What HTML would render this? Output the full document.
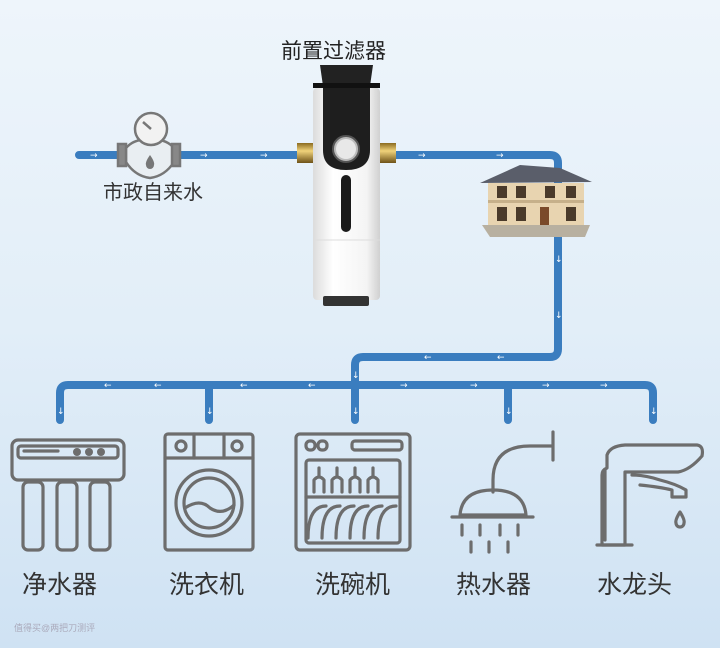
<!DOCTYPE html>
<html><head><meta charset="utf-8"><style>
html,body{margin:0;padding:0;}
body{width:720px;height:648px;overflow:hidden;background:linear-gradient(180deg,#eef5fb 0%,#e2eef8 50%,#cfe2f3 100%);font-family:"Liberation Sans","Noto Sans CJK SC",sans-serif;}
svg{display:block}
</style></head><body>
<svg width="720" height="648" viewBox="0 0 720 648" xmlns="http://www.w3.org/2000/svg">
<defs>
<linearGradient id="brass" x1="0" y1="0" x2="0" y2="1"><stop offset="0" stop-color="#8a6a20"/><stop offset=".4" stop-color="#f0d27a"/><stop offset="1" stop-color="#6e5218"/></linearGradient>
<linearGradient id="wb" x1="0" y1="0" x2="1" y2="0"><stop offset="0" stop-color="#dcdcdc"/><stop offset=".3" stop-color="#ffffff"/><stop offset=".8" stop-color="#f4f4f4"/><stop offset="1" stop-color="#d0d0d0"/></linearGradient>
</defs>
<g fill="none" stroke="#3a7dbf" stroke-width="8" stroke-linecap="round" stroke-linejoin="round">
<path d="M79 155 H550 Q558 155 558 163 V349 Q558 357 550 357 H363 Q355 357 355 365 V420"/>
<path d="M60 420 V393 Q60 385 68 385 H645 Q653 385 653 393 V420"/>
<path d="M209 385 V420 M508 385 V420"/>
</g>
<g fill="#fff" font-size="9" font-family="DejaVu Sans,sans-serif">
<text x="90" y="158">→</text><text x="200" y="158">→</text><text x="260" y="158">→</text><text x="418" y="158">→</text><text x="496" y="158">→</text>
<text x="424" y="360">←</text><text x="497" y="360">←</text>
<text x="104" y="388">←</text><text x="154" y="388">←</text><text x="240" y="388">←</text><text x="308" y="388">←</text><text x="400" y="388">→</text><text x="470" y="388">→</text><text x="542" y="388">→</text><text x="600" y="388">→</text>
<text x="555" y="262">↓</text><text x="555" y="318">↓</text><text x="352" y="378">↓</text>
<text x="57" y="414">↓</text><text x="206" y="414">↓</text><text x="352" y="414">↓</text><text x="505" y="414">↓</text><text x="650" y="414">↓</text>
</g>
<!-- meter -->
<g stroke="#777" stroke-width="2.5" fill="#e9eef2">
<path d="M126 148 Q135 138 150 140 Q165 138 174 148 V162 Q165 176 150 178 Q135 176 126 162 Z"/>
<rect x="118" y="144" width="8" height="22" fill="#888"/><rect x="172" y="144" width="8" height="22" fill="#888"/>
<rect x="146" y="132" width="8" height="10" fill="#ccc"/>
<circle cx="151" cy="129" r="16" fill="#f2f2f2"/>
<line x1="151" y1="129" x2="143" y2="122"/>
</g>
<path d="M150 155 q-5 7 -4 10 a4 4 0 0 0 8 0 q1 -3 -4 -10z" fill="#777"/>
<text x="103" y="199" font-size="20" fill="#333">市政自来水</text>
<!-- filter -->
<text x="281" y="58" font-size="21" fill="#222">前置过滤器</text>
<rect x="297" y="143" width="17" height="20" fill="url(#brass)"/>
<rect x="379" y="143" width="17" height="20" fill="url(#brass)"/>
<rect x="313" y="88" width="67" height="212" rx="4" fill="url(#wb)"/>
<path d="M323 88 H370 V150 Q370 170 346 170 Q323 170 323 150 Z" fill="#1e1e1e"/>
<path d="M320 65 H373 L370 86 H323 Z" fill="#222"/>
<rect x="313" y="83" width="67" height="5" fill="#111"/>
<circle cx="346" cy="149" r="13" fill="#bbb" stroke="#555" stroke-width="2"/>
<circle cx="346" cy="149" r="10" fill="#e8e8e8"/>
<rect x="341" y="175" width="10" height="57" rx="5" fill="#1a1a1a"/>
<line x1="313" y1="240" x2="380" y2="240" stroke="#ddd"/>
<rect x="323" y="296" width="46" height="10" rx="2" fill="#333"/>
<!-- house -->
<g>
<path d="M480 183 L520 165 L560 168 L592 182 Z" fill="#5a5e6a"/>
<rect x="488" y="183" width="96" height="42" fill="#e8d4b0"/>
<rect x="488" y="200" width="96" height="3" fill="#c6b08a"/>
<rect x="497" y="186" width="10" height="12" fill="#4a3a2a"/><rect x="516" y="186" width="10" height="12" fill="#4a3a2a"/><rect x="545" y="186" width="10" height="12" fill="#4a3a2a"/><rect x="566" y="186" width="10" height="12" fill="#4a3a2a"/>
<rect x="497" y="207" width="10" height="14" fill="#4a3a2a"/><rect x="516" y="207" width="10" height="14" fill="#4a3a2a"/><rect x="540" y="207" width="9" height="18" fill="#7a4a2a"/><rect x="566" y="207" width="10" height="14" fill="#4a3a2a"/>
<path d="M482 225 H590 L585 237 H490 Z" fill="#b8b0a0"/>
</g>
<!-- icons -->
<g fill="none" stroke="#6d6d6d" stroke-width="3.2" stroke-linecap="round" stroke-linejoin="round">
<rect x="12" y="440" width="112" height="40" rx="6"/>
<rect x="18" y="446" width="100" height="12" rx="3"/>
<line x1="24" y1="451" x2="58" y2="451"/>
<rect x="23" y="482" width="20" height="68" rx="5"/><rect x="57" y="482" width="20" height="68" rx="5"/><rect x="90" y="482" width="20" height="68" rx="5"/>
<rect x="165" y="434" width="88" height="116" rx="3"/>
<line x1="165" y1="458" x2="253" y2="458"/>
<line x1="194" y1="434" x2="194" y2="458"/><line x1="224" y1="434" x2="224" y2="458"/>
<circle cx="181" cy="446" r="5"/><circle cx="237" cy="446" r="5"/>
<circle cx="209" cy="503" r="33"/><circle cx="209" cy="503" r="25"/>
<path d="M185 508 Q200 498 210 508 Q222 516 234 505"/>
<rect x="296" y="434" width="114" height="116" rx="4"/>
<rect x="306" y="441" width="9" height="9" rx="4"/><rect x="318" y="441" width="9" height="9" rx="4"/>
<rect x="352" y="441" width="50" height="9" rx="3"/>
<rect x="306" y="460" width="94" height="83" rx="3"/>
<line x1="306" y1="497" x2="400" y2="497"/>
<path d="M314 492 v-12 q5 -6 10 0 v12 M332 492 v-12 q5 -6 10 0 v12 M350 492 v-12 q5 -6 10 0 v12 M368 492 v-12 q5 -6 10 0 v12"/>
<path d="M319 477 v-9 M337 477 v-9 M355 477 v-9 M373 477 v-9"/>
<path d="M308 538 q0 -32 18 -32 M322 538 q0 -32 18 -32 M336 538 q0 -32 18 -32 M350 538 q0 -32 18 -32 M364 538 q0 -32 18 -32 M378 538 q0 -32 18 -32"/>
<path d="M553 432 v28 M553 446 H530 Q493 446 493 480 V492"/>
<path d="M460 515 Q462 490 493 490 Q524 490 526 515 Z"/>
<line x1="452" y1="517" x2="533" y2="517"/>
<path d="M462 525 v10 M480 525 v10 M500 525 v10 M518 525 v10 M471 542 v10 M489 542 v10 M508 542 v10"/>
<path d="M602 545 V475 Q602 470 607 468 V455 Q610 446 625 445 H697 Q704 446 702 456 Q690 470 678 472 H625 V545 Z"/>
<path d="M632 475 Q645 475 660 480 Q676 484 686 490 V497 H672 V490 Q660 487 640 485"/>
<path d="M597 545 H632 M605 470 V540"/>
<path d="M680 512 q-5 8 -4 11 a4 4 0 0 0 8 0 q1 -3 -4 -11z"/>
</g>
<g fill="#6d6d6d"><circle cx="77" cy="452" r="4"/><circle cx="89" cy="452" r="4"/><circle cx="101" cy="452" r="4"/></g>
<g font-size="25" fill="#333">
<text x="22" y="593">净水器</text>
<text x="169" y="593">洗衣机</text>
<text x="315" y="593">洗碗机</text>
<text x="456" y="593">热水器</text>
<text x="597" y="593">水龙头</text>
</g>
<text x="14" y="631" font-size="9" fill="#aab">值得买@两把刀测评</text>
</svg>
</body></html>
